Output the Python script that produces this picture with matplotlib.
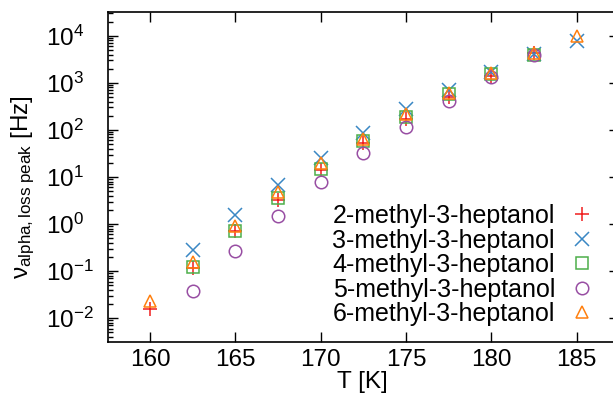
import numpy as np
import matplotlib
matplotlib.use("Agg")
from matplotlib import pyplot as plt
from matplotlib.ticker import NullFormatter, LogLocator

plt.rcParams['font.family'] = ['Liberation Sans', 'DejaVu Sans']
plt.rcParams['mathtext.fontset'] = 'custom'
plt.rcParams['mathtext.rm'] = 'Liberation Sans'
plt.rcParams['mathtext.it'] = 'Liberation Sans'
plt.rcParams['mathtext.default'] = 'regular'

# temperatures [K]
T = [160, 162.5, 165, 167.5, 170, 172.5, 175, 177.5, 180, 182.5, 185]

# loss peak frequencies [Hz], None = not measured
m2 = [0.016, 0.118, 0.70, 3.2, 14, 52, 168, 510, 1430, 4400, None]
m3 = [None, 0.28, 1.55, 6.7, 25, 87, 275, 700, 1740, 4100, 7900]
m4 = [None, 0.12, 0.72, 3.5, 15, 58, 190, 590, 1550, 4000, None]
m5 = [None, 0.038, 0.27, 1.5, 7.9, 33, 117, 415, 1320, 4000, None]
m6 = [0.023, 0.155, 0.93, 4.8, 20, 63, 218, 600, 1600, 4300, 9700]

labels = ["2-methyl-3-heptanol", "3-methyl-3-heptanol", "4-methyl-3-heptanol",
          "5-methyl-3-heptanol", "6-methyl-3-heptanol"]
series = [m2, m3, m4, m5, m6]
colors = ["#f01e1e", "#3a87c4", "#4daf4a", "#984ea3", "#ff7f0e"]
markers = ["+", "x", "s", "o", "^"]
sizes = [9.5, 9.5, 8.5, 9, 9]

yticks = [1e-2, 1e-1, 1e0, 1e1, 1e2, 1e3, 1e4]
xticks = [160, 165, 170, 175, 180, 185]

fig = plt.figure(figsize=(6.13, 4.0), dpi=100)
ax = fig.add_axes([0.1754, 0.1458, 0.835, 0.8235])

for vals, lab, c, m, s in zip(series, labels, colors, markers, sizes):
    t = [ti for ti, v in zip(T, vals) if v is not None]
    v = [vi for vi in vals if vi is not None]
    ax.plot(t, v, linestyle='none', marker=m, markersize=s, color=c,
            markerfacecolor='none', markeredgecolor=c, markeredgewidth=1.1,
            label=lab)

ax.set_yscale('log')
ax.set_xlim(157.5, 187.5)
ax.set_ylim(10**-2.5, 10**4.5)
ax.set_xticks(xticks)
ax.set_yticks(yticks)
ax.yaxis.set_minor_locator(LogLocator(base=10, subs=np.arange(2, 10), numticks=20))
ax.yaxis.set_minor_formatter(NullFormatter())

ax.tick_params(which='both', direction='in', top=True, right=True, width=1.0,
               labelsize=17.5)
ax.tick_params(which='major', length=7.2)
ax.tick_params(which='minor', length=3.6)
ax.tick_params(axis='x', pad=5)
# gnuplot-style: tick labels start at a common left edge
ax.tick_params(axis='y', pad=44)
for lbl in ax.get_yticklabels():
    lbl.set_horizontalalignment('left')
for sp in ax.spines.values():
    sp.set_linewidth(1.2)

ax.set_xlabel("T [K]", fontsize=17.5)
ax.xaxis.set_label_coords(0.498, -0.088)
ax.set_ylabel(r"$\nu_{\mathrm{alpha,loss\ peak}}$ [Hz]", fontsize=17.5)
ax.yaxis.set_label_coords(-0.137, 0.47)

leg = ax.legend(loc='lower right', bbox_to_anchor=(0.961, 0.032), frameon=False,
                fontsize=18, markerfirst=False, handletextpad=0.58,
                labelspacing=0.02, borderpad=0.2, handlelength=1.0,
                borderaxespad=0)

fig.savefig("out.png", dpi=100)
